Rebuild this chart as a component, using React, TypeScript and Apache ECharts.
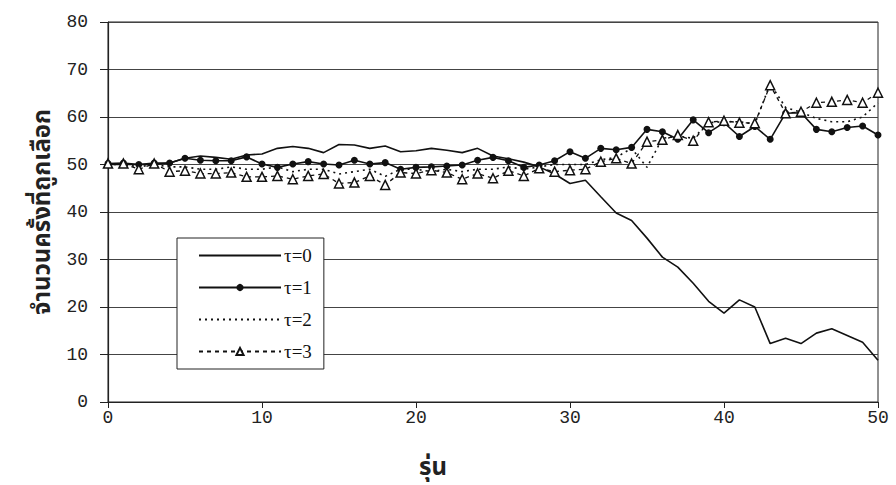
import React, { useEffect, useRef } from "react";
import * as echarts from "echarts";

const xTicks = [0, 10, 20, 30, 40, 50];
const yTicks = [0, 10, 20, 30, 40, 50, 60, 70, 80];
const seriesNames = ["τ=0", "τ=1", "τ=2", "τ=3"];

const tau0 = [50, 50, 50, 50, 50.3, 51.3, 51.8, 51.5, 51.1, 52.0, 52.2, 53.4, 53.8, 53.4, 52.5, 54.2, 54.1, 53.4, 53.9, 52.7, 52.9, 53.4, 53.0, 52.5, 53.4, 51.8, 51.2, 50.5, 49.5, 48.0, 46.0, 46.7, 43.2, 39.8, 38.2, 34.5, 30.5, 28.4, 25.0, 21.2, 18.7, 21.5, 20.0, 12.3, 13.4, 12.3, 14.5, 15.4, 14.0, 12.6, 8.8];
const tau1 = [50.2, 50.3, 50, 50.3, 50.3, 51.3, 50.9, 50.8, 50.8, 51.6, 50.1, 49.4, 50.1, 50.6, 50.1, 49.9, 50.9, 50.1, 50.4, 49.0, 49.4, 49.5, 49.7, 49.9, 50.9, 51.5, 50.8, 49.4, 49.9, 50.8, 52.7, 51.3, 53.4, 53.1, 53.6, 57.4, 56.9, 55.3, 59.4, 56.7, 58.8, 55.9, 58.0, 55.3, 60.8, 60.9, 57.4, 56.9, 57.8, 58.1, 56.2];
const tau2 = [50, 50, 49.5, 50, 49.5, 49.5, 49, 49, 49.5, 49, 49, 49.5, 48.5, 49, 49, 48, 48.5, 49, 47.5, 49, 49, 48.5, 49, 48.5, 49, 49, 49.5, 49, 49.5, 50, 50, 50, 51, 51.5, 53.4, 49.4, 55.5, 56, 55.5, 58.8, 59, 59, 58.5, 67, 62, 61, 59.7, 59, 59, 60, 63];
const tau3 = [50.2, 50.2, 49.0, 50.2, 48.5, 48.7, 48.1, 48.1, 48.3, 47.4, 47.4, 47.6, 46.9, 47.6, 48.0, 46.0, 46.2, 47.6, 45.7, 48.3, 48.1, 48.8, 48.3, 46.9, 48.1, 47.1, 48.7, 47.6, 49.2, 48.5, 48.8, 49.0, 50.6, 51.3, 50.2, 54.8, 55.2, 56.2, 55.0, 58.9, 59.2, 58.8, 58.7, 66.7, 60.8, 61.1, 63.0, 63.2, 63.6, 63.0, 65.1];

const yTitle = "จำนวนครั้งที่ถูกเลือก";
const xTitle = "รุ่น";

const toPts = (arr: number[]) => arr.map((v, i) => [i, v]);

export default function App() {
  const ref = useRef<HTMLDivElement>(null);
  useEffect(() => {
    if (!ref.current) return;
    const chart = echarts.init(ref.current, null, { renderer: "svg" });
    const monoFont = "'Liberation Mono', 'DejaVu Sans Mono', monospace";
    const thaiFont = "'Noto Sans Thai', 'Noto Sans', 'DejaVu Sans', sans-serif";
    const hidden = { color: "rgba(0,0,0,0)", borderColor: "rgba(0,0,0,0)", borderWidth: 0 };
    chart.setOption({
      animation: false,
      backgroundColor: "#ffffff",
      grid: {
        left: 108,
        right: 18,
        top: 22,
        bottom: 83,
        show: true,
        borderColor: "#222",
        borderWidth: 1,
      },
      xAxis: {
        type: "value",
        min: xTicks[0],
        max: xTicks[xTicks.length - 1],
        interval: 10,
        axisLine: { show: true, lineStyle: { color: "#222", width: 1.2 } },
        axisTick: { show: true, length: 6, lineStyle: { color: "#222" } },
        splitLine: { show: false },
        axisLabel: {
          color: "#222",
          fontFamily: monoFont,
          fontSize: 18,
          margin: 7,
        },
      },
      yAxis: {
        type: "value",
        min: yTicks[0],
        max: yTicks[yTicks.length - 1],
        interval: 10,
        name: yTitle,
        nameLocation: "middle",
        nameGap: 50,
        nameTextStyle: {
          fontFamily: thaiFont,
          fontSize: 24,
          fontWeight: "bold",
          color: "#222",
        },
        axisLine: { show: true, lineStyle: { color: "#222", width: 1.2 } },
        axisTick: { show: true, length: 8, lineStyle: { color: "#222" } },
        splitLine: { show: true, lineStyle: { color: "#444", width: 1.2 } },
        axisLabel: {
          color: "#222",
          fontFamily: monoFont,
          fontSize: 18,
          margin: 20,
        },
      },
      legend: {
        show: true,
        orient: "vertical",
        left: 177,
        top: 238,
        padding: [8, 12, 8, 21],
        itemWidth: 82,
        itemHeight: 9,
        itemGap: 13,
        borderColor: "#222",
        borderWidth: 1,
        backgroundColor: "#ffffff",
        data: [
          { name: seriesNames[0], itemStyle: hidden },
          { name: seriesNames[1] },
          { name: seriesNames[2], itemStyle: hidden },
          { name: seriesNames[3] },
        ],
        textStyle: {
          fontFamily: "'Liberation Serif', 'DejaVu Serif', serif",
          fontSize: 19,
          color: "#111",
          padding: [0, 0, 0, -2],
        },
      },
      graphic: [
        {
          type: "text",
          left: 419,
          top: 456,
          style: {
            text: xTitle,
            font: `bold 24px ${thaiFont}`,
            fill: "#222",
          },
        },
      ],
      series: [
        {
          name: seriesNames[0],
          type: "line",
          data: toPts(tau0),
          symbol: "none",
          lineStyle: { color: "#111", width: 1.6, type: "solid" },
          itemStyle: { color: "#111" },
          z: 3,
        },
        {
          name: seriesNames[1],
          type: "line",
          data: toPts(tau1),
          symbol: "circle",
          symbolSize: 7,
          lineStyle: { color: "#111", width: 1.6, type: "solid" },
          itemStyle: { color: "#111" },
          z: 4,
        },
        {
          name: seriesNames[2],
          type: "line",
          data: toPts(tau2),
          symbol: "none",
          lineStyle: { color: "#111", width: 1.6, type: [2, 4] },
          itemStyle: { color: "#111" },
          z: 2,
        },
        {
          name: seriesNames[3],
          type: "line",
          data: toPts(tau3),
          symbol: "triangle",
          symbolSize: 9,
          lineStyle: { color: "#111", width: 1.3, type: [4, 4] },
          itemStyle: { color: "#ffffff", borderColor: "#111", borderWidth: 1.5 },
          z: 5,
        },
      ],
    });
    return () => chart.dispose();
  }, []);
  return (
    <div
      ref={ref}
      style={{ position: "fixed", left: 0, top: 0, width: 896, height: 485 }}
    />
  );
}
